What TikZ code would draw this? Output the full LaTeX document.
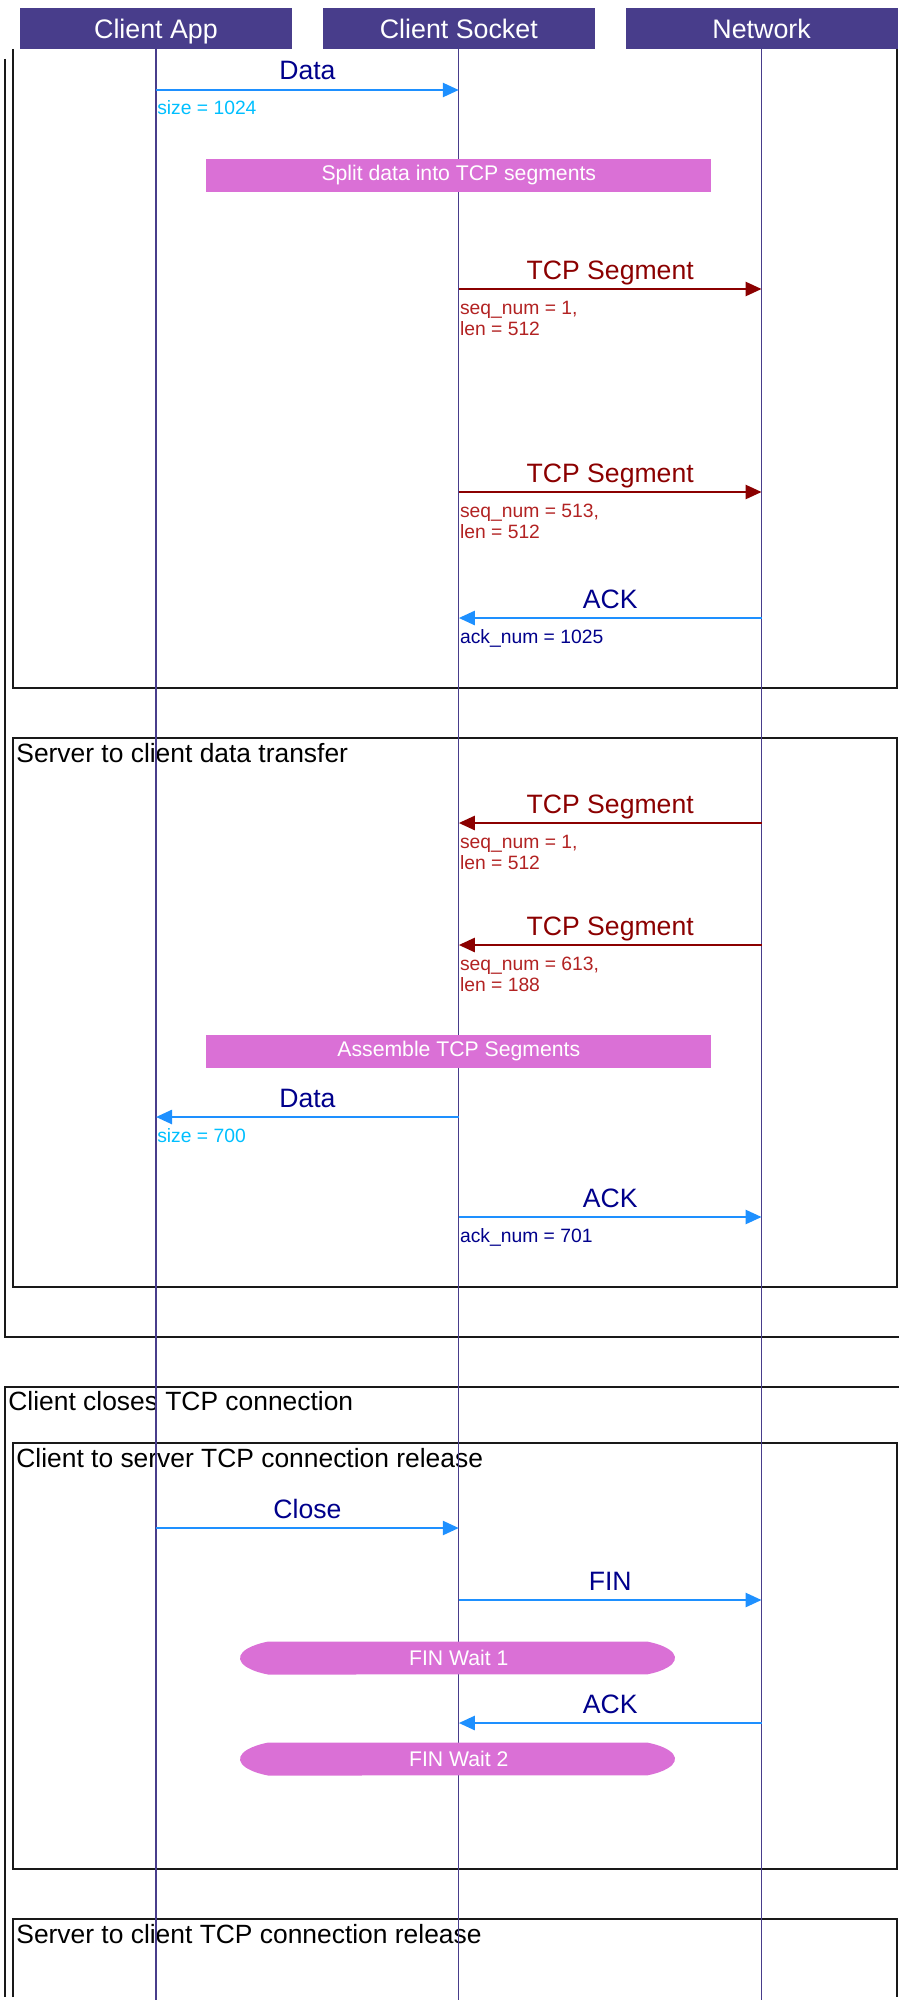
\documentclass[tikz,border=0pt]{standalone}
\usepackage{fontspec}
\setmainfont{Liberation Sans}
\usetikzlibrary{arrows.meta,positioning}

\definecolor{headblue}{HTML}{483D8B}
\definecolor{dodger}{HTML}{1E90FF}
\definecolor{skyblue}{HTML}{00BFFF}
\definecolor{segred}{HTML}{8B0000}
\definecolor{subred}{HTML}{B22222}
\definecolor{msgnavy}{HTML}{00008B}
\definecolor{orchidbox}{HTML}{DA70D6}

\tikzset{
  actor/.style={fill=headblue, text=white, minimum width=136pt, minimum height=20.5pt,
    inner sep=0pt, text height=9.6pt, text depth=0pt, font=\fontsize{13.4}{16}\selectfont},
  lifeline/.style={draw=headblue, line width=0.6pt},
  frame/.style={draw=black!90, line width=1pt},
  framelabel/.style={anchor=base west, inner sep=0pt, font=\fontsize{13.2}{16}\selectfont},
  msgdata/.style={draw=dodger, line width=1.25pt, -{Triangle[length=8pt,width=7pt]}},
  msgseg/.style={draw=segred, line width=1.25pt, -{Triangle[length=8pt,width=7pt]}},
  msglabel/.style={anchor=base, inner sep=0pt, yshift=5pt, font=\fontsize{13.3}{16}\selectfont},
  sublabel/.style={anchor=base west, inner sep=0pt, yshift=-12.5pt, align=left,
    font=\fontsize{9.65}{10.5}\selectfont},
  subpair/.style={sublabel, yshift=-10.5pt},
  actbox/.style={fill=orchidbox, text=white, minimum width=252.5pt, minimum height=16.5pt,
    inner sep=0pt, font=\fontsize{10.6}{12}\selectfont},
  statetext/.style={text=white, inner sep=0pt, font=\fontsize{10.6}{12}\selectfont},
}

\begin{document}
\begin{tikzpicture}[x=0.5pt,y=-0.5pt]
\useasboundingbox (0,0) rectangle (899,2007);
\clip (0,0) rectangle (899,2007);

% Draw frames
\draw[frame] (4.7,59) -- (4.7,1337) -- (905,1337);
\draw[frame] (13.3,49) -- (13.3,688) -- (897,688) -- (897,49);
\draw[frame] (13.3,738) rectangle (897,1287);
\node[framelabel] (s2cdata) at (16,762) {Server to client data transfer};
\draw[frame] (905,1387) -- (4.7,1387) -- (4.7,1997);
\node[framelabel] (closes) at (8,1410) {Client closes TCP connection};
\draw[frame] (13.3,1443) rectangle (897,1869);
\node[framelabel] (c2srel) at (16,1467) {Client to server TCP connection release};
\draw[frame] (13.3,1997) -- (13.3,1919) -- (897,1919) -- (897,1997);
\node[framelabel] (s2crel) at (16,1943) {Server to client TCP connection release};

% Draw headers and lifelines
\node[actor] (app) at (156,28.5) {Client App};
\node[actor] (sock) [right=15pt of app] {Client Socket};
\node[actor] (net) [right=15pt of sock] {Network};
\coordinate (bottom) at (0,2000);
\foreach \a in {app,sock,net}
  \draw[lifeline] (\a.south) -- (\a.south |- bottom);

% Rows
\foreach \r/\y in {m1/90, m2/289, m3/492, m4/618, m5/823, m6/945, m7/1117, m8/1217,
                   m9/1528, m10/1600, m11/1723, b1/175.5, b2/1051.5}
  \coordinate (\r) at (0,\y);

% Activity boxes
\node[actbox] (split) at (sock |- b1) {Split data into TCP segments};
\node[actbox] (assemble) at (sock |- b2) {Assemble TCP Segments};

\foreach \nm/\y/\txt in {waitA/1658/FIN Wait 1, waitB/1759/FIN Wait 2} {
  \fill[orchidbox] (268,\y-16.5) -- (647,\y-16.5)
    arc[start angle=-60, end angle=60, x radius=56, y radius=19] -- (268,\y+16.5)
    arc[start angle=120, end angle=240, x radius=56, y radius=19] -- cycle;
  \node[statetext] (\nm) at (sock |- 0,\y) {\txt};
}

% Client to server data transfer
\draw[msgdata] (app |- m1) -- (sock |- m1)
  node[msglabel, text=msgnavy, midway] {Data}
  node[sublabel, text=skyblue, pos=0] {size = 1024};
\draw[msgseg] (sock |- m2) -- (net |- m2)
  node[msglabel, text=segred, midway] {TCP Segment}
  node[subpair, text=subred, pos=0] {seq\_num = 1,\\len = 512};
\draw[msgseg] (sock |- m3) -- (net |- m3)
  node[msglabel, text=segred, midway] {TCP Segment}
  node[subpair, text=subred, pos=0] {seq\_num = 513,\\len = 512};
\draw[msgdata] (net |- m4) -- (sock |- m4)
  node[msglabel, text=msgnavy, midway] {ACK}
  node[sublabel, text=msgnavy, pos=1] {ack\_num = 1025};

% Server to client data transfer
\draw[msgseg] (net |- m5) -- (sock |- m5)
  node[msglabel, text=segred, midway] {TCP Segment}
  node[subpair, text=subred, pos=1] {seq\_num = 1,\\len = 512};
\draw[msgseg] (net |- m6) -- (sock |- m6)
  node[msglabel, text=segred, midway] {TCP Segment}
  node[subpair, text=subred, pos=1] {seq\_num = 613,\\len = 188};
\draw[msgdata] (sock |- m7) -- (app |- m7)
  node[msglabel, text=msgnavy, midway] {Data}
  node[sublabel, text=skyblue, pos=1] {size = 700};
\draw[msgdata] (sock |- m8) -- (net |- m8)
  node[msglabel, text=msgnavy, midway] {ACK}
  node[sublabel, text=msgnavy, pos=0] {ack\_num = 701};

% Connection release
\draw[msgdata] (app |- m9) -- (sock |- m9)
  node[msglabel, text=msgnavy, midway] {Close};
\draw[msgdata] (sock |- m10) -- (net |- m10)
  node[msglabel, text=msgnavy, midway] {FIN};
\draw[msgdata] (net |- m11) -- (sock |- m11)
  node[msglabel, text=msgnavy, midway] {ACK};
\end{tikzpicture}
\end{document}
